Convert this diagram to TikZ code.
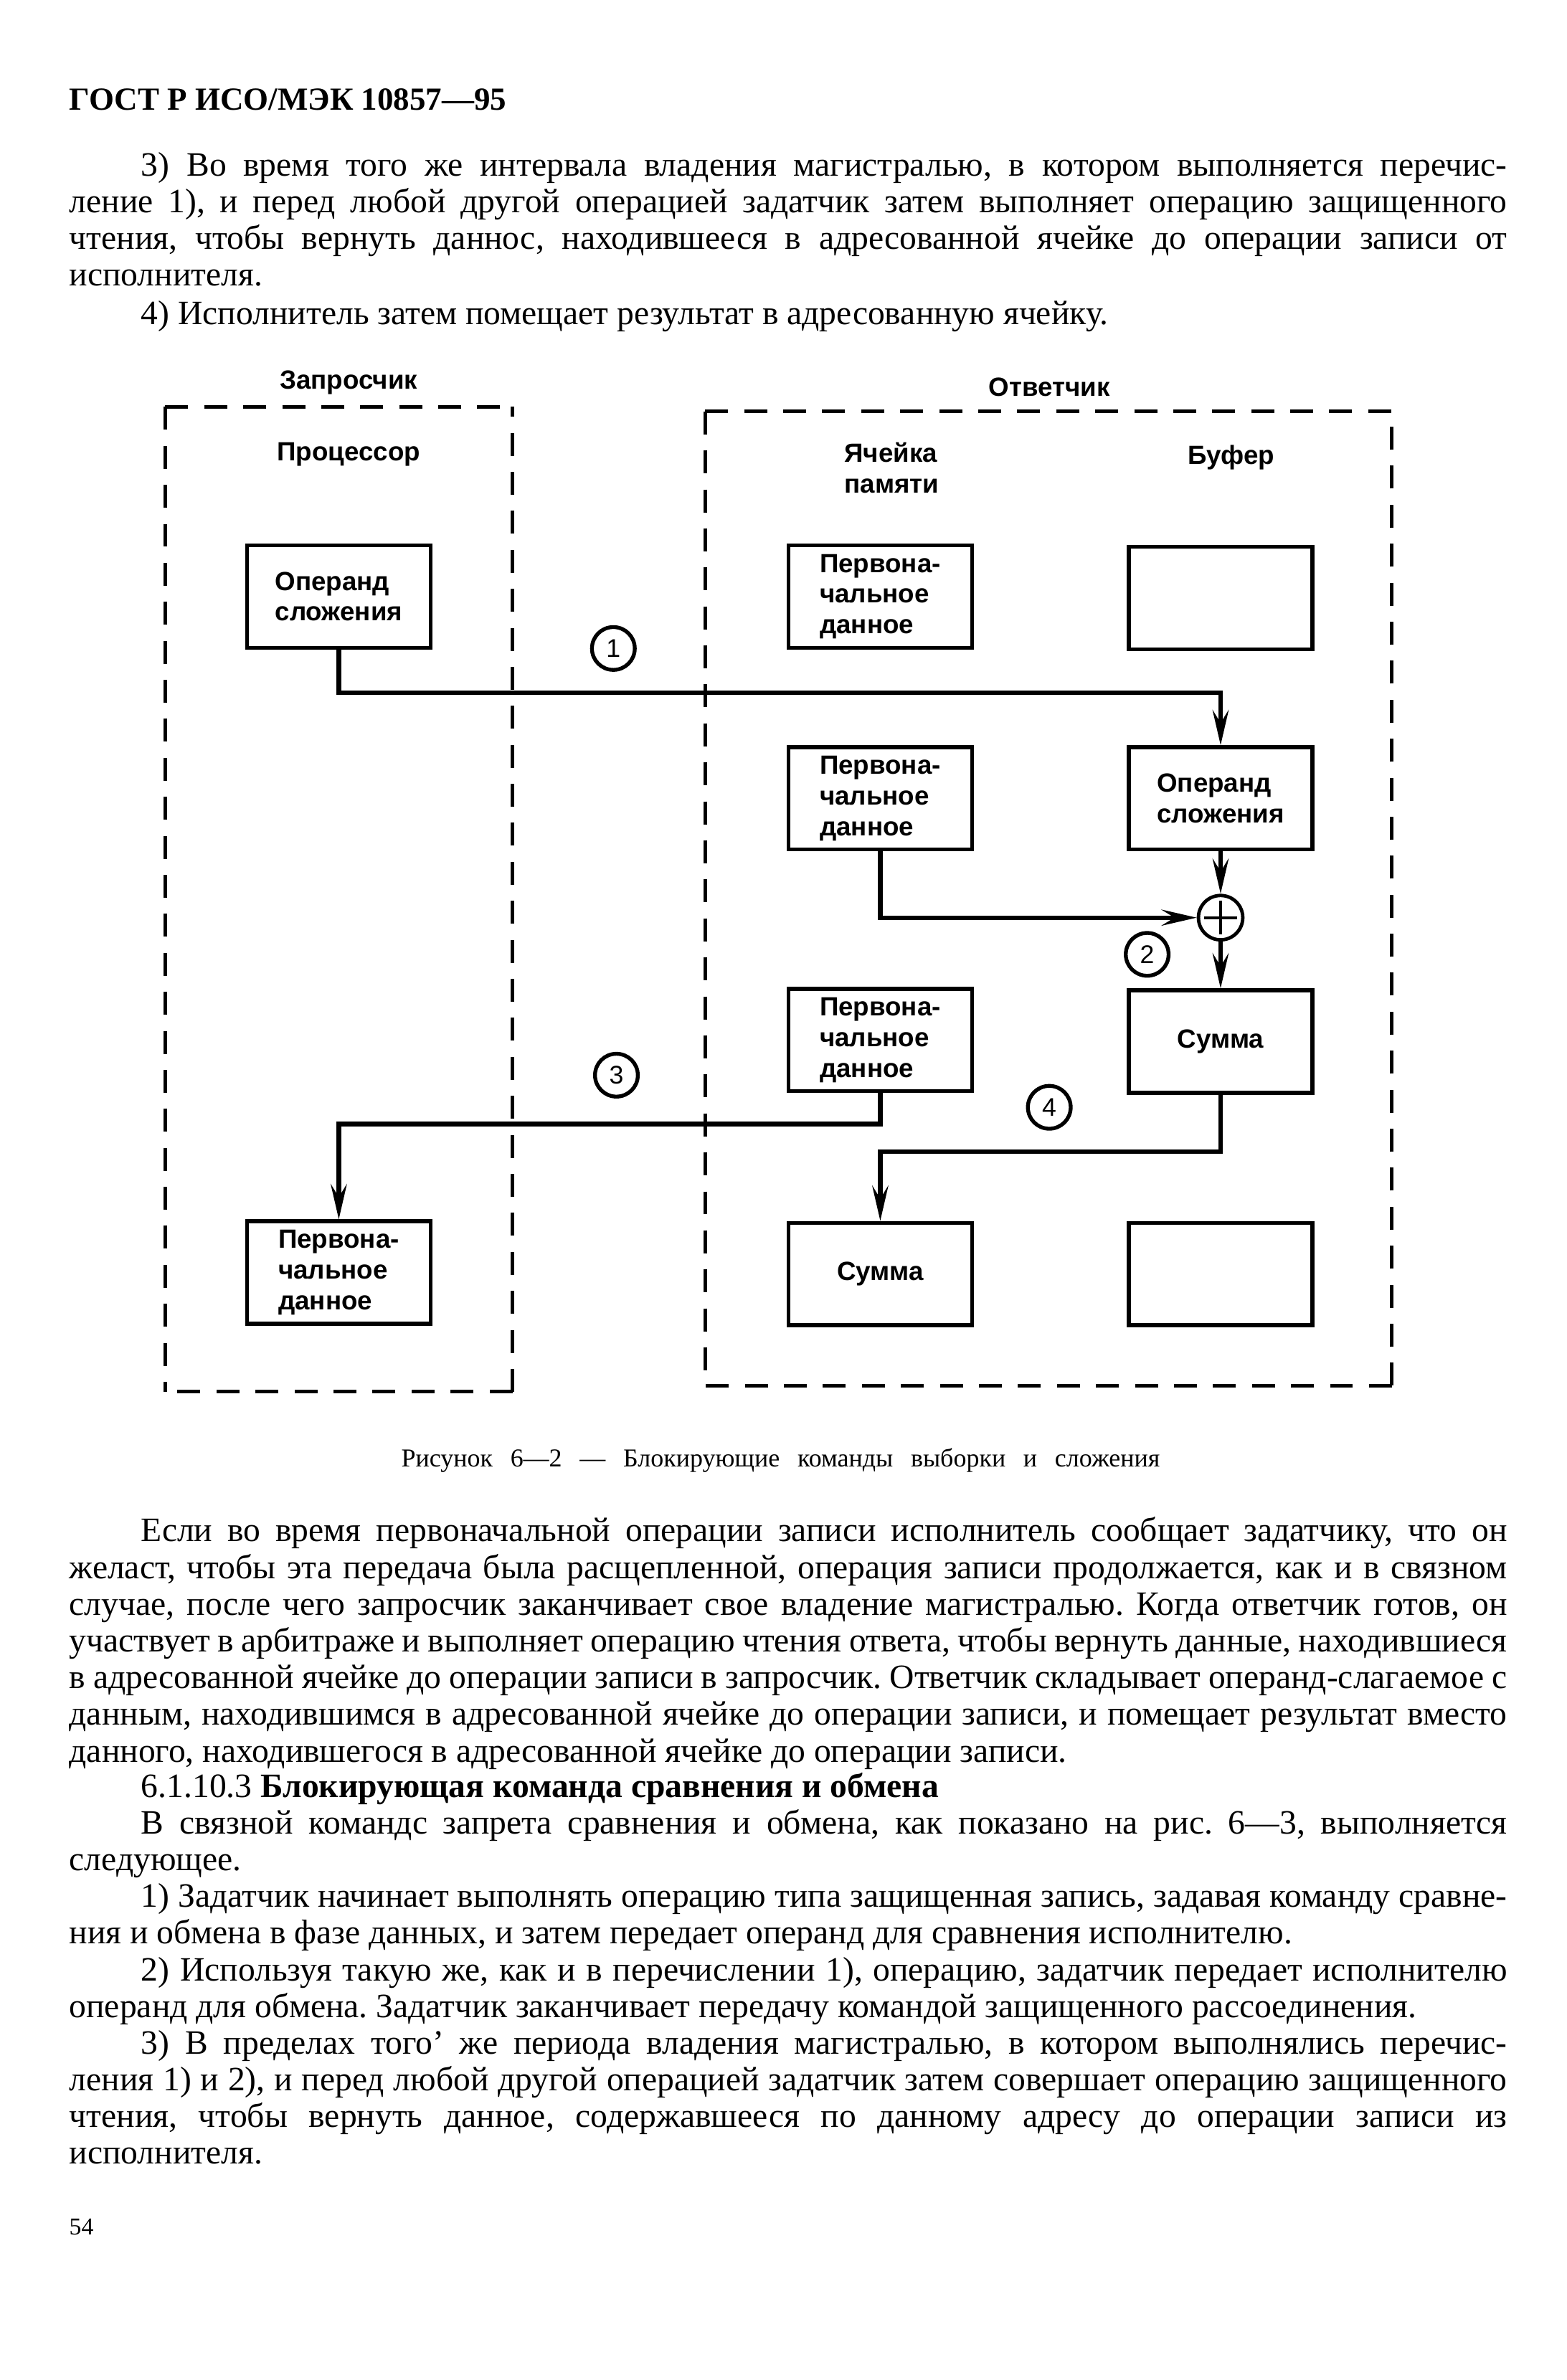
\documentclass[tikz,border=0pt]{standalone}
\usepackage{fontspec}
\setmainfont{Liberation Serif}
\newfontfamily\dsans{Liberation Sans}
\usetikzlibrary{arrows.meta,calc}
\frenchspacing
\newlength{\tw}\setlength{\tw}{188mm}
\newlength{\ind}\setlength{\ind}{9.4mm}
\newcommand{\jl}[1]{\hbox to \tw{#1}}
\newcommand{\ji}[1]{\hbox to \tw{\hskip\ind #1}}
\newcommand{\nl}[1]{\hbox{#1}}
\newcommand{\nli}[1]{\hbox{\hskip\ind #1}}
\begin{document}
\begin{tikzpicture}[x=0.2mm,y=-0.2mm,
  txt/.style={anchor=base west, inner sep=0pt, font=\fontsize{12.7}{15}\selectfont},
  lab/.style={inner sep=0pt, align=left, font=\dsans\bfseries\fontsize{9.8}{11.4}\selectfont},
  box/.style={draw, line width=0.5mm, minimum width=24mm, minimum height=13.4mm, inner sep=0pt, align=left, font=\dsans\bfseries\fontsize{9.8}{11.4}\selectfont},
  dashbox/.style={line width=0.45mm, dash pattern=on 3mm off 2.1mm},
  conn/.style={line width=0.6mm},
  arr/.style={conn, -{Stealth[length=4.6mm,width=2.1mm,inset=1.7mm]}},
  numc/.style={circle, draw, line width=0.5mm, minimum size=5.6mm, inner sep=0pt, font=\dsans\fontsize{9.5}{10}\selectfont}
]
\fill[white] (0,0) rectangle (1024,1556.16);
\useasboundingbox (0,0) rectangle (1024,1556.16);

% header and top text
\node[txt, font=\bfseries\fontsize{12}{14}\selectfont] (hdr) at (45,72) {ГОСТ Р ИСО/МЭК 10857—95};
\node[txt] (a1) at (45,115) {\ji{3) Во время того же интервала владения магистралью, в котором выполняется перечис-}};
\node[txt] (a2) at (45,139) {\jl{ление 1), и перед любой другой операцией задатчик затем выполняет операцию защищенного}};
\node[txt] (a3) at (45,163) {\jl{чтения, чтобы вернуть даннос, находившееся в адресованной ячейке до операции записи от}};
\node[txt] (a4) at (45,187) {\nl{исполнителя.}};
\node[txt] (a5) at (45,212) {\nli{4) Исполнитель затем помещает результат в адресованную ячейку.}};

% diagram headings
\node[lab] (zap) at (228,250) {Запросчик};
\node[lab] (otv) at (686,253) {Ответчик};
\node[lab] (proc) at (228,297) {Процессор};
\node[lab] (yach) at (583,306) {Ячейка\\памяти};
\node[lab] (buf) at (805,299) {Буфер};

% dashed frames
\coordinate (L1) at (108,266); \coordinate (L2) at (335,266);
\coordinate (L3) at (335,910); \coordinate (L4) at (108,910);
\draw[dashbox] (L1) -- (L2); \draw[dashbox] (L1) -- (L4);
\draw[dashbox] (L3) -- (L2); \draw[dashbox] (L3) -- (L4);
\coordinate (R1) at (461,269); \coordinate (R2) at (910,269);
\coordinate (R3) at (910,906); \coordinate (R4) at (461,906);
\draw[dashbox] (R1) -- (R2); \draw[dashbox] (R1) -- (R4);
\draw[dashbox] (R3) -- (R2); \draw[dashbox] (R3) -- (R4);

% boxes
\node[box] (opL) at (221.5,390) {Операнд\\сложения};
\node[box] (pd1) at (575.5,390) {Первона-\\чальное\\данное};
\node[box] (buf1) at (798,391) {};
\node[box] (pd2) at (575.5,522) {Первона-\\чальное\\данное};
\node[box] (op2) at (798,522) {Операнд\\сложения};
\node[box] (pd3) at (575.5,680) {Первона-\\чальное\\данное};
\node[box] (sum1) at (798,681) {Сумма};
\node[box] (pd4) at (221.5,832) {Первона-\\чальное\\данное};
\node[box] (sum2) at (575.5,833) {Сумма};
\node[box] (buf2) at (798,833) {};

% adder
\node[circle, draw, line width=0.45mm, minimum size=5.8mm, inner sep=0pt] (plus) at (798,600) {};
\draw[line width=0.4mm] ($(plus.center)+(-11,0)$) -- ($(plus.center)+(11,0)$);
\draw[line width=0.4mm] ($(plus.center)+(0,-11)$) -- ($(plus.center)+(0,11)$);

% numbered circles
\node[numc] (n1) at (401,424) {1};
\node[numc] (n2) at (750,624) {2};
\node[numc] (n3) at (403,703) {3};
\node[numc] (n4) at (686,724) {4};

% connectors
\coordinate (c1) at (798,453);
\draw[arr] (opL.south) |- (c1) -- (op2.north);
\draw[arr] (pd2.south) |- (plus.west);
\draw[arr] (op2.south) -- (plus.north);
\draw[arr] (plus.south) -- (sum1.north);
\coordinate (c3) at (221.5,735);
\draw[arr] (pd3.south) |- (c3) -- (pd4.north);
\coordinate (c4) at (575.5,753);
\draw[arr] (sum1.south) |- (c4) -- (sum2.north);

% caption
\node[txt, font=\fontsize{9.6}{11}\selectfont] (cap) at (262,959) {\hbox to 99.2mm{Рисунок 6—2 — Блокирующие команды выборки и сложения}};

% lower text
\node[txt] (b1) at (45,1008) {\ji{Если во время первоначальной операции записи исполнитель сообщает задатчику, что он}};
\node[txt] (b2) at (45,1032) {\jl{желаст, чтобы эта передача была расщепленной, операция записи продолжается, как и в связном}};
\node[txt] (b3) at (45,1056) {\jl{случае, после чего запросчик заканчивает свое владение магистралью. Когда ответчик готов, он}};
\node[txt] (b4) at (45,1080) {\jl{участвует в арбитраже и выполняет операцию чтения ответа, чтобы вернуть данные, находившиеся}};
\node[txt] (b5) at (45,1104) {\jl{в адресованной ячейке до операции записи в запросчик. Ответчик складывает операнд-слагаемое с}};
\node[txt] (b6) at (45,1128) {\jl{данным, находившимся в адресованной ячейке до операции записи, и помещает результат вместо}};
\node[txt] (b7) at (45,1152) {\nl{данного, находившегося в адресованной ячейке до операции записи.}};
\node[txt] (b8) at (45,1175) {\nli{6.1.10.3 \textbf{Блокирующая команда сравнения и обмена}}};
\node[txt] (b9) at (45,1199) {\ji{В связной командс запрета сравнения и обмена, как показано на рис. 6—3, выполняется}};
\node[txt] (b10) at (45,1223) {\nl{следующее.}};
\node[txt] (b11) at (45,1247) {\ji{1) Задатчик начинает выполнять операцию типа защищенная запись, задавая команду сравне-}};
\node[txt] (b12) at (45,1271) {\nl{ния и обмена в фазе данных, и затем передает операнд для сравнения исполнителю.}};
\node[txt] (b13) at (45,1295) {\ji{2) Используя такую же, как и в перечислении 1), операцию, задатчик передает исполнителю}};
\node[txt] (b14) at (45,1319) {\nl{операнд для обмена. Задатчик заканчивает передачу командой защищенного рассоединения.}};
\node[txt] (b15) at (45,1343) {\ji{3) В пределах того’ же периода владения магистралью, в котором выполнялись перечис-}};
\node[txt] (b16) at (45,1367) {\jl{ления 1) и 2), и перед любой другой операцией задатчик затем совершает операцию защищенного}};
\node[txt] (b17) at (45,1391) {\jl{чтения, чтобы вернуть данное, содержавшееся по данному адресу до операции записи из}};
\node[txt] (b18) at (45,1415) {\nl{исполнителя.}};
\node[txt, font=\fontsize{9}{10}\selectfont] (pg) at (45,1461) {54};
\end{tikzpicture}
\end{document}
